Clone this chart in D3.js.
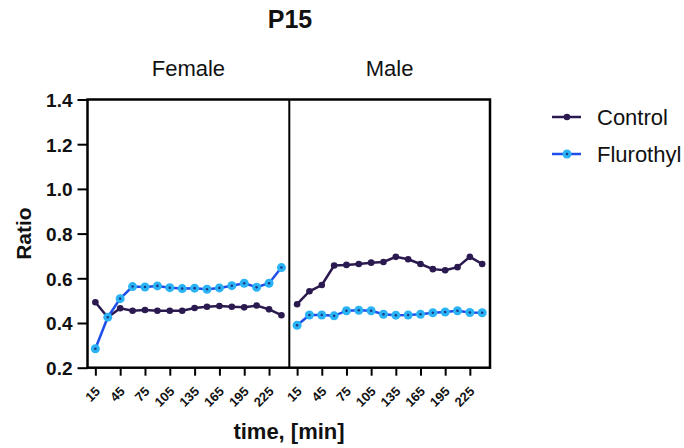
<!DOCTYPE html>
<html><head><meta charset="utf-8">
<script src="https://cdn.jsdelivr.net/npm/d3@7"></script>
<style>body{margin:0;background:#fff;}svg{display:block;font-family:"Liberation Sans",Arial,sans-serif;} svg text{font-family:"Liberation Sans",Arial,sans-serif;}</style>
</head><body>
<svg id="c" width="684" height="448"></svg>
<script>
const times = [15,30,45,60,75,90,105,120,135,150,165,180,195,210,225,240];
const tickLabels = [15,45,75,105,135,165,195,225];
const yTicks = [0.2,0.4,0.6,0.8,1.0,1.2,1.4];
const panels = ["Female","Male"];
const seriesNames = ["Control","Flurothyl"];
const femaleControl = [0.493,0.426,0.466,0.455,0.458,0.455,0.455,0.455,0.467,0.473,0.476,0.473,0.470,0.478,0.461,0.435];
const femaleFlurothyl = [0.285,0.426,0.509,0.563,0.561,0.566,0.558,0.554,0.556,0.551,0.557,0.567,0.578,0.560,0.578,0.648];
const maleControl = [0.484,0.542,0.570,0.657,0.660,0.664,0.670,0.673,0.696,0.685,0.664,0.641,0.636,0.650,0.696,0.664];
const maleFlurothyl = [0.390,0.436,0.436,0.432,0.455,0.457,0.455,0.439,0.435,0.436,0.439,0.446,0.449,0.455,0.447,0.446];

const data = {
  Female: {Control: femaleControl, Flurothyl: femaleFlurothyl},
  Male: {Control: maleControl, Flurothyl: maleFlurothyl}
};
const lineColor = {Control:"#2b1a4f", Flurothyl:"#1f4fe8"};
const markColor = {Control:"#2b1a4f", Flurothyl:"#2ab4f5"};

const svg = d3.select("#c");
const plotTop = 99.5, plotBottom = 367.7;
const panelX = [[87.5,289.3],[289.3,490]];
const y = d3.scaleLinear().domain([0.2,1.4]).range([plotBottom, plotTop]);

panels.forEach((p,i)=>{
  const [x0,x1] = panelX[i];
  const x = d3.scaleLinear().domain([5.5,249.5]).range([x0,x1]);
  const g = svg.append("g");
  const xa = g.append("g").attr("transform",`translate(0,${plotBottom})`)
    .call(d3.axisBottom(x).tickValues(tickLabels).tickSize(8).tickSizeOuter(0));
  xa.attr("font-family",null);
  xa.select(".domain").remove();
  xa.selectAll(".tick line").attr("stroke","#000").attr("stroke-width",2);
  xa.selectAll(".tick text").attr("font-size",13).attr("font-weight","bold").attr("fill","#111")
    .attr("text-anchor","end").attr("dy",0).attr("y",0)
    .attr("transform","translate(5,24.5) rotate(-45)");
  g.append("text").attr("x",(x0+x1)/2).attr("y",76).attr("text-anchor","middle")
    .attr("font-size",22).attr("fill","#111").text(p);
  seriesNames.forEach(s=>{
    const vals = data[p][s];
    const line = d3.line().x((d,j)=>x(times[j])).y(d=>y(d));
    g.append("path").datum(vals).attr("d",line).attr("fill","none")
      .attr("stroke",lineColor[s]).attr("stroke-width",2.5);
    g.selectAll(null).data(vals).enter().append("circle")
      .attr("cx",(d,j)=>x(times[j])).attr("cy",d=>y(d))
      .attr("r", s==="Flurothyl"?4.5:3.3).attr("fill",markColor[s]);
    if(s==="Flurothyl"){
      g.selectAll(null).data(vals).enter().append("circle")
        .attr("cx",(d,j)=>x(times[j])).attr("cy",d=>y(d))
        .attr("r",1.3).attr("fill","#1a3a8a");
    }
  });
});

svg.append("rect").attr("x",panelX[0][0]).attr("y",plotTop).attr("width",panelX[1][1]-panelX[0][0])
  .attr("height",plotBottom-plotTop).attr("fill","none").attr("stroke","#000").attr("stroke-width",2.5);
svg.append("line").attr("x1",panelX[0][1]).attr("x2",panelX[0][1]).attr("y1",plotTop).attr("y2",plotBottom)
  .attr("stroke","#000").attr("stroke-width",2);

const ya = svg.append("g").attr("transform",`translate(${panelX[0][0]},0)`)
  .call(d3.axisLeft(y).tickValues(yTicks).tickFormat(d3.format(".1f")).tickSize(10).tickSizeOuter(0));
ya.attr("font-family",null);
ya.select(".domain").remove();
ya.selectAll(".tick line").attr("stroke","#000").attr("stroke-width",2);
ya.selectAll(".tick text").attr("font-size",19).attr("font-weight","bold").attr("fill","#111").attr("x",-15).attr("dy","0.36em");

svg.append("text").attr("x",290).attr("y",28).attr("text-anchor","middle")
  .attr("font-size",25).attr("font-weight","bold").attr("fill","#111").text("P15");
svg.append("text").attr("transform",`translate(31,${(plotTop+plotBottom)/2}) rotate(-90)`)
  .attr("text-anchor","middle").attr("font-size",21).attr("font-weight","bold").attr("fill","#111").text("Ratio");
svg.append("text").attr("x",289).attr("y",439).attr("text-anchor","middle")
  .attr("font-size",22).attr("font-weight","bold").attr("fill","#111").text("time, [min]");

seriesNames.forEach((s,i)=>{
  const ly = 117 + i*37;
  const lg = svg.append("g");
  lg.append("line").attr("x1",552).attr("x2",581).attr("y1",ly).attr("y2",ly)
    .attr("stroke",lineColor[s]).attr("stroke-width",2.5);
  lg.append("circle").attr("cx",567).attr("cy",ly).attr("r",s==="Flurothyl"?4.5:3.3).attr("fill",markColor[s]);
  if(s==="Flurothyl") lg.append("circle").attr("cx",567).attr("cy",ly).attr("r",1.3).attr("fill","#1a3a8a");
  lg.append("text").attr("x",597).attr("y",ly+7.5).attr("font-size",22).attr("fill","#111").text(s);
});
</script>
</body></html>
